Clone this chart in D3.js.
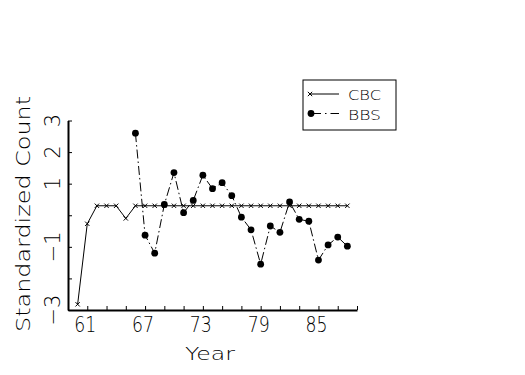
<!DOCTYPE html>
<html>
<head>
<meta charset="utf-8">
<style>
body { margin: 0; background: #fff; }
svg text { font-family: "DejaVu Sans", sans-serif; font-weight: 200; fill: #000; }
</style>
</head>
<body>
<div id="chart"></div>
<script src="https://d3js.org/d3.v7.min.js"></script>
<script>
// CBC series, 1960-1988
var cbcYears = [60,61,62,63,64,65,66,67,68,69,70,71,72,73,74,75,76,77,78,79,80,81,82,83,84,85,86,87,88];
var cbcValues = [-2.82,-0.27,0.3,0.3,0.3,-0.1,0.3,0.3,0.3,0.3,0.3,0.3,0.3,0.3,0.3,0.3,0.3,0.3,0.3,0.3,0.3,0.3,0.3,0.3,0.3,0.3,0.3,0.3,0.3];

// BBS series, 1966-1988
var bbsYears = [66,67,68,69,70,71,72,73,74,75,76,77,78,79,80,81,82,83,84,85,86,87,88];
var bbsValues = [2.6,-0.63,-1.2,0.34,1.35,0.08,0.47,1.27,0.84,1.03,0.62,-0.06,-0.46,-1.55,-0.34,-0.54,0.42,-0.13,-0.19,-1.42,-0.94,-0.69,-0.98];

var xTicks = [61,63,65,67,69,71,73,75,77,79,81,83,85,87,89];
var xLabels = [61,67,73,79,85];
var yTicks = [3,2,1,0,-1,-2,-3];
var yLabels = [3,2,1,-1,-3];

var svg = d3.select("#chart").append("svg")
    .attr("width", 525)
    .attr("height", 375);

var x = d3.scaleLinear().domain([59, 89]).range([68, 357]);
var y = d3.scaleLinear().domain([-3, 3]).range([310, 120.5]);

var cbc = cbcYears.map(function(d, i){ return {x: d, y: cbcValues[i]}; });
var bbs = bbsYears.map(function(d, i){ return {x: d, y: bbsValues[i]}; });

// axes
var xAxis = svg.append("g")
    .attr("transform", "translate(0," + y(-3) + ")")
    .call(d3.axisBottom(x).tickValues(xTicks).tickSize(-4).tickSizeOuter(0).tickFormat(""));
xAxis.select(".domain").attr("stroke-width", 2);
xAxis.selectAll(".tick line").attr("stroke-width", 1);

xAxis.selectAll(".lbl")
    .data(xLabels)
    .enter().append("text")
    .attr("x", function(d){ return x(d) - 2; })
    .attr("y", 22)
    .attr("text-anchor", "middle")
    .attr("font-size", 22)
    .attr("textLength", 22)
    .attr("lengthAdjust", "spacingAndGlyphs")
    .text(function(d){ return d; });

var yAxis = svg.append("g")
    .attr("transform", "translate(" + x(59) + ",0)")
    .call(d3.axisLeft(y).tickValues(yTicks).tickSize(-4).tickSizeOuter(0).tickFormat(""));
yAxis.select(".domain").attr("stroke-width", 2);

yAxis.selectAll(".lbl")
    .data(yLabels)
    .enter().append("text")
    .attr("transform", function(d){ return "translate(-8," + y(d) + ") rotate(-90)"; })
    .attr("text-anchor", "middle")
    .attr("font-size", 21)
    .text(function(d){ return d < 0 ? "\u2212" + Math.abs(d) : d; });

// axis titles
svg.append("text")
    .attr("x", 210)
    .attr("y", 360)
    .attr("text-anchor", "middle")
    .attr("font-size", 17)
    .attr("textLength", 50)
    .attr("lengthAdjust", "spacingAndGlyphs")
    .text("Year");

svg.append("text")
    .attr("transform", "translate(30,214) rotate(-90)")
    .attr("text-anchor", "middle")
    .attr("font-size", 20)
    .attr("textLength", 236)
    .attr("lengthAdjust", "spacingAndGlyphs")
    .text("Standardized Count");

// lines
var line = d3.line().x(function(d){ return x(d.x); }).y(function(d){ return y(d.y); });

svg.append("path")
    .datum(cbc)
    .attr("d", line)
    .attr("fill", "none")
    .attr("stroke", "#000")
    .attr("stroke-width", 1);

svg.append("path")
    .datum(bbs)
    .attr("d", line)
    .attr("fill", "none")
    .attr("stroke", "#000")
    .attr("stroke-width", 1)
    .attr("stroke-dasharray", "9,3,1.5,3");

var cross = d3.symbol().type(d3.symbolX).size(14);

svg.append("g").selectAll("path")
    .data(cbc)
    .enter().append("path")
    .attr("transform", function(d){ return "translate(" + x(d.x) + "," + y(d.y) + ")"; })
    .attr("d", cross)
    .attr("fill", "none")
    .attr("stroke", "#000")
    .attr("stroke-width", 1);

svg.append("g").selectAll("circle")
    .data(bbs)
    .enter().append("circle")
    .attr("cx", function(d){ return x(d.x); })
    .attr("cy", function(d){ return y(d.y); })
    .attr("r", 3.4)
    .attr("fill", "#000");

// legend
var legend = svg.append("g");
legend.append("rect")
    .attr("x", 303).attr("y", 80)
    .attr("width", 93).attr("height", 50)
    .attr("fill", "none").attr("stroke", "#000").attr("stroke-width", 1);

legend.append("line")
    .attr("x1", 310).attr("x2", 339).attr("y1", 94).attr("y2", 94)
    .attr("stroke", "#000");
legend.append("path")
    .attr("transform", "translate(310,94)")
    .attr("d", cross)
    .attr("fill", "none").attr("stroke", "#000");
legend.append("text")
    .attr("x", 348).attr("y", 99.5)
    .attr("font-size", 14)
    .attr("textLength", 33)
    .attr("lengthAdjust", "spacingAndGlyphs")
    .text("CBC");

legend.append("line")
    .attr("x1", 310).attr("x2", 339).attr("y1", 113.5).attr("y2", 113.5)
    .attr("stroke", "#000")
    .attr("stroke-dasharray", "11,4,1.5,4");
legend.append("circle")
    .attr("cx", 311).attr("cy", 113.5).attr("r", 3.4)
    .attr("fill", "#000");
legend.append("text")
    .attr("x", 348).attr("y", 119.5)
    .attr("font-size", 14)
    .attr("textLength", 33)
    .attr("lengthAdjust", "spacingAndGlyphs")
    .text("BBS");
</script>
</body>
</html>
